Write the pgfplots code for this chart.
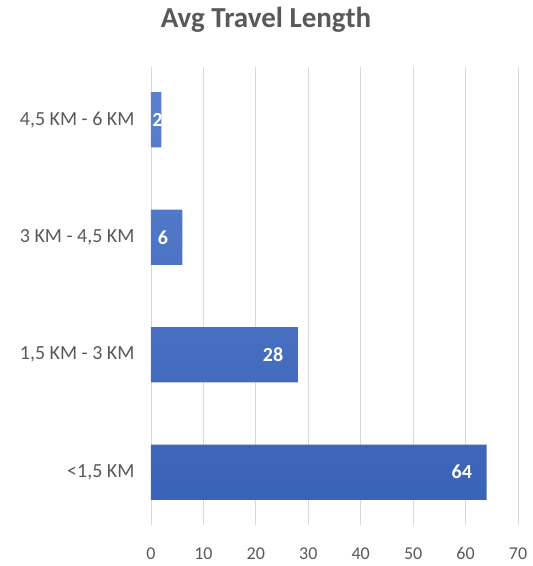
\documentclass[border=0pt]{standalone}
\usepackage{pgfplots}
\pgfplotsset{compat=1.18}
\usepackage{fontspec}
\setmainfont{Carlito}
\definecolor{txt}{HTML}{595959}
\definecolor{grd}{HTML}{D9D9D9}
\definecolor{bartop}{HTML}{5B80CF}
\definecolor{barbot}{HTML}{3A62B6}
\begin{document}
\begin{tikzpicture}
\begin{axis}[
  name=ax,
  scale only axis,
  width=367pt, height=458pt,
  xmin=0, xmax=70,
  ymin=-0.45, ymax=3.45,
  xtick={0,10,...,70},
  ytick={0,1,2,3},
  yticklabels={{<1,5 KM},{1,5 KM - 3 KM},{3 KM - 4,5 KM},{4,5 KM - 6 KM}},
  xmajorgrids,
  grid style={grd, line width=0.8pt},
  axis line style={draw=none},
  major tick length=0pt,
  tick label style={text=txt},
  xticklabel style={font=\fontsize{18}{20}\selectfont, yshift=-19pt},
  yticklabel style={font=\fontsize{20}{22}\selectfont, xshift=-13pt},
  /pgf/number format/assume math mode=true,
  clip=false,
]
\addplot[xbar, bar width=0.47, draw=none, top color=bartop, bottom color=barbot,
  visualization depends on={rawx \as \xv},
  nodes near coords,
  nodes near coords style={font=\bfseries\fontsize{20}{22}\selectfont, text=white, anchor=east,
    xshift={(\xv<3) ? 4.5 : -11}},
] coordinates {(64,0) (28,1) (6,2) (2,3)};
\end{axis}
\node[font=\bfseries\fontsize{29}{32}\selectfont, text=txt] at ([xshift=115pt,yshift=47pt]ax.north west) {Avg Travel Length};
\pgfresetboundingbox
\path ([xshift=-151pt,yshift=-41pt]ax.south west) rectangle ([xshift=14pt,yshift=67pt]ax.north east);
\end{tikzpicture}
\end{document}
